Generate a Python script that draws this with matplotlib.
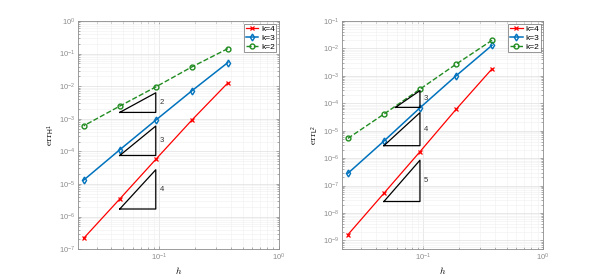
import numpy as np
import matplotlib
matplotlib.use("Agg")
import matplotlib.pyplot as plt
from matplotlib import ticker

plt.rcParams["font.family"] = ["Liberation Sans", "DejaVu Sans"]
plt.rcParams["mathtext.fontset"] = "cm"
plt.rcParams["mathtext.default"] = "regular"

# mesh sizes and errors
h = np.array([0.375, 0.1875, 0.09375, 0.046875, 0.0234375])

h1_k4 = [0.0126, 9.1e-4, 5.7e-5, 3.47e-6, 2.17e-7]
h1_k3 = [0.053, 7.2e-3, 9.1e-4, 1.12e-4, 1.32e-5]
h1_k2 = [0.142, 0.039, 9.5e-3, 2.45e-3, 6.1e-4]

l2_k4 = [1.8e-3, 5.97e-5, 1.72e-6, 5.25e-8, 1.62e-9]
l2_k3 = [0.013, 1.0e-3, 6.85e-5, 4.2e-6, 2.8e-7]
l2_k2 = [0.0198, 2.65e-3, 3.27e-4, 4.04e-5, 5.26e-6]

# slope triangles: (x_left, x_right, y_bottom, order)
tri_h1 = [(0.046875, 0.09375, 1.57e-3, 2),
          (0.046875, 0.09375, 7.5e-5, 3),
          (0.046875, 0.09375, 1.71e-6, 4)]
tri_l2 = [(0.0586, 0.09375, 7.1e-5, 3),
          (0.046875, 0.09375, 2.85e-6, 4),
          (0.046875, 0.09375, 2.63e-8, 5)]

# decade exponents shown on the y axes
yexp_h1 = np.arange(-7, 1)
yexp_l2 = np.arange(-9, 0)

RED = (1.0, 0.0, 0.0)
BLUE = (0.0, 0.447, 0.741)
GREEN = (0.13, 0.55, 0.13)
GRAY = (0.55, 0.55, 0.55)


def panel(ax, e4, e3, e2, tris, ylim, yexp, ylab):
    ax.loglog(h, e4, "-x", color=RED, lw=0.9, ms=2.5, mew=0.9, label="k=4")
    ax.loglog(h, e3, "-d", color=BLUE, lw=1.1, ms=3.5, mfc="none", mew=1.0, label="k=3")
    ax.loglog(h, e2, "--o", color=GREEN, lw=1.0, ms=3.5, mfc="none", mew=1.0, label="k=2")
    for x0, x1, y0, p in tris:
        y1 = y0 * (x1 / x0) ** p
        ax.plot([x0, x1, x1, x0], [y0, y0, y1, y0], "k-", lw=0.9)
        ax.text(x1 * 1.08, np.sqrt(y0 * y1), str(p), fontsize=5.5,
                va="center", ha="left", color="0.2")
    ax.set_xlim(0.021, 1)
    ax.set_ylim(*ylim)
    ax.set_xticks([0.1, 1.0])
    ax.set_yticks(10.0 ** yexp)
    ax.xaxis.set_major_formatter(ticker.LogFormatterSciNotation())
    ax.yaxis.set_major_formatter(ticker.LogFormatterSciNotation())
    ax.yaxis.set_minor_locator(ticker.LogLocator(base=10, subs=np.arange(2, 10), numticks=20))
    ax.yaxis.set_minor_formatter(ticker.NullFormatter())
    ax.xaxis.set_minor_formatter(ticker.NullFormatter())
    ax.set_xlim(0.021, 1)
    ax.set_ylim(*ylim)
    ax.set_xlabel(r"$\mathit{h}$", fontsize=7, labelpad=1)
    ax.set_ylabel(ylab, fontsize=7, labelpad=1)
    ax.grid(True, which="major", color="0.88", lw=0.5)
    ax.grid(True, which="minor", color="0.94", lw=0.4)
    ax.tick_params(which="both", direction="in", top=True, right=True,
                   colors=GRAY, labelsize=5.5, width=0.5, pad=2)
    ax.tick_params(which="major", length=2.5)
    ax.tick_params(which="minor", length=1.5)
    for s in ax.spines.values():
        s.set_color(GRAY)
        s.set_linewidth(0.6)
    leg = ax.legend(loc="upper right", fontsize=6, handlelength=1.5, handletextpad=0.3,
                    labelspacing=0.12, borderpad=0.2, borderaxespad=0.3, fancybox=False)
    leg.get_frame().set_edgecolor("0.4")
    leg.get_frame().set_linewidth(0.6)


fig = plt.figure(figsize=(6, 2.8), dpi=100)
axA = fig.add_axes([0.13, 0.11, 0.3347, 0.815])
axB = fig.add_axes([0.5703, 0.11, 0.3347, 0.815])
panel(axA, h1_k4, h1_k3, h1_k2, tri_h1, (1e-7, 1), yexp_h1, r"$\mathrm{err}_{H^1}$")
panel(axB, l2_k4, l2_k3, l2_k2, tri_l2, (4.8e-10, 1e-1), yexp_l2, r"$\mathrm{err}_{L^2}$")
fig.savefig("out.png", dpi=100)
